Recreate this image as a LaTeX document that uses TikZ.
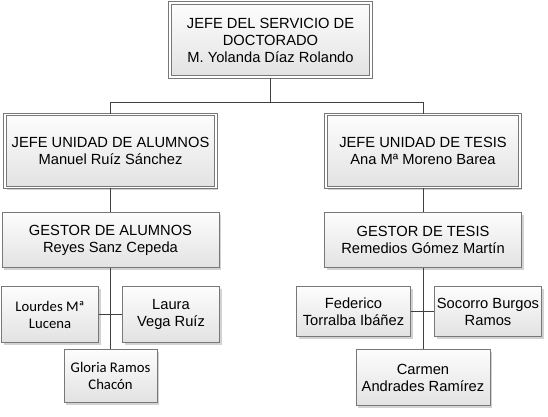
\documentclass[tikz,border=0pt]{standalone}
\usepackage{fontspec}
\setmainfont{Liberation Sans}
\newfontfamily\calibrifont{Carlito}
\usepackage{xcolor}
\usetikzlibrary{positioning,shadows}
\definecolor{orgline}{RGB}{64,64,64}
\definecolor{orgborder}{RGB}{120,120,120}
\definecolor{orgtop}{RGB}{253,253,253}
\definecolor{orgbottom}{RGB}{226,226,226}
\tikzset{
  orgbox/.style={
    rectangle,
    draw=orgborder,
    line width=0.9pt,
    top color=orgtop,
    bottom color=orgbottom,
    align=center,
    inner sep=2pt,
    font=\fontsize{14.7}{17}\selectfont,
    drop shadow={shadow xshift=2pt, shadow yshift=-2pt, fill=black!35, opacity=0.5}
  },
  orghead/.style={
    orgbox,
    double=white,
    double distance=1.8pt
  },
  orglink/.style={
    draw=orgline,
    line width=0.8pt
  }
}

\begin{document}
\begin{tikzpicture}[x=1pt, y=-1pt]
\useasboundingbox (0,0) rectangle (548,417);
\node[orghead, minimum width=201.5pt, minimum height=74.5pt] (dir) at (270.5,40) {JEFE DEL SERVICIO DE\\DOCTORADO\\M. Yolanda Díaz Rolando};
\node[orghead, minimum width=211.5pt, minimum height=73pt] (jalum) at (110.5,151) {JEFE UNIDAD DE ALUMNOS\\Manuel Ruíz Sánchez};
\node[orghead, minimum width=194.5pt, minimum height=73pt] (jtes) at (423,151) {JEFE UNIDAD DE TESIS\\Ana Mª Moreno Barea};
\node[orgbox, minimum width=217pt, minimum height=55pt] (galum) at (110.5,240) {GESTOR DE ALUMNOS\\Reyes Sanz Cepeda};
\node[orgbox, minimum width=197pt, minimum height=55pt] (gtes) at (423,240) {GESTOR DE TESIS\\Remedios Gómez Martín};
% alumnos
\node[orgbox, minimum width=97pt, minimum height=56pt] (lourdes) at (50,314.5) {\calibrifont Lourdes Mª\\\calibrifont Lucena};
\node[orgbox, minimum width=97pt, minimum height=56pt] (laura) at (171,314.5) {Laura\\Vega Ruíz};
\node[orgbox, minimum width=93pt, minimum height=53pt] (gloria) at (110.5,376) {\calibrifont Gloria Ramos\\\calibrifont Chacón};
% tesis
\node[orgbox, minimum width=114pt, minimum height=50pt] (federico) at (353.5,311.5) {Federico\\Torralba Ibáñez};
\node[orgbox, minimum width=107pt, minimum height=50pt] (socorro) at (488,311.5) {Socorro Burgos\\Ramos};
\node[orgbox, minimum width=134pt, minimum height=56pt] (carmen) at (423,377.5) {Carmen\\Andrades Ramírez};

\coordinate (bus) at (270.5,102);
\draw[orglink] (dir) -- (bus);
\draw[orglink] (bus) -| (jalum);
\draw[orglink] (bus) -| (jtes);
\draw[orglink] (jalum) -- (galum);
\draw[orglink] (jtes) -- (gtes);
\draw[orglink] (galum) -- (gloria);
\draw[orglink] (lourdes) -- (laura);
\draw[orglink] (gtes) -- (carmen);
\draw[orglink] (federico) -- (socorro);
\end{tikzpicture}
\end{document}
